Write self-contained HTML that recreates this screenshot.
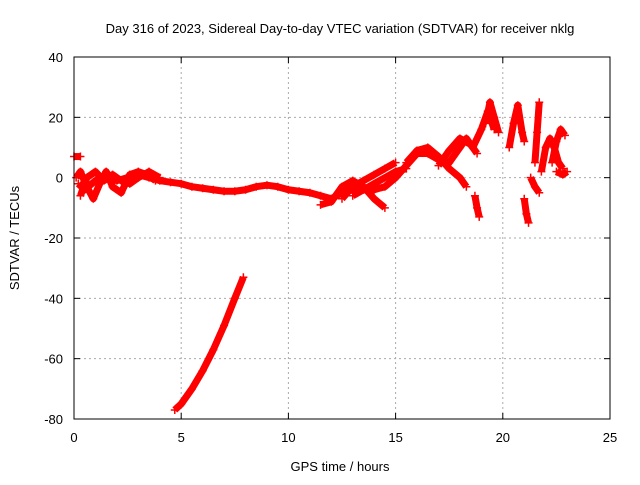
<!DOCTYPE html>
<html><head><meta charset="utf-8"><style>
body{margin:0;background:#fff}
svg text{font-family:"Liberation Sans",sans-serif;font-size:13px;fill:#000}
</style></head><body>
<svg id="c" width="640" height="480">
<rect width="640" height="480" fill="#fff"/>
<text x="340" y="33" text-anchor="middle">Day 316 of 2023, Sidereal Day-to-day VTEC variation (SDTVAR) for receiver nklg</text>
<text x="340" y="471" text-anchor="middle">GPS time / hours</text>
<text transform="translate(19,238) rotate(-90)" text-anchor="middle">SDTVAR / TECUs</text>
<g id="grid"></g><g id="marks"></g>
<rect x="74" y="57" width="536" height="362" fill="none" stroke="#000"/>
</svg>
<script>
const xTicks=[0,5,10,15,20,25];
const yTicks=[40,20,0,-20,-40,-60,-80];
const tracks=[
[[0.2,-2],[0.5,-4],[1,-1],[1.5,0],[2,-1],[2.5,0],[3,1],[3.5,0],[4,-1],[4.5,-1.5],[5,-2],[5.5,-3],[6,-3.5],[6.5,-4],[7,-4.5],[7.5,-4.5],[8,-4],[8.5,-3],[9,-2.5],[9.5,-3],[10,-4],[10.5,-4.5],[11,-5],[11.5,-6],[12,-7],[12.5,-5],[13,-4],[13.5,-4],[14,-4],[14.5,-3],[15,0],[15.5,4],[16,8],[16.5,8],[17,6],[17.5,5],[18,10],[18.3,13],[18.6,10],[19,16],[19.3,22],[19.6,16]],
[[0.1,0],[0.3,2],[0.6,-3],[0.9,-7],[1.2,-2],[1.5,2],[1.8,-3],[2.2,-5],[2.6,1],[3,2],[3.4,1],[3.8,-1]],
[[0.3,-6],[0.6,0],[1,2],[1.4,-1],[1.8,1],[2.2,-1],[2.6,-2],[3,0],[3.5,2],[4,0]],
[[11.5,-9],[12,-8],[12.5,-3],[13,-1],[13.5,-3],[14,-7],[14.5,-10]],
[[12.5,-7],[13,-3],[13.5,-1],[14,1],[14.5,3],[15,5]],
[[13,-6],[14,-2],[15,2],[15.5,3]],
[[15.5,5],[16,9],[16.5,10],[17,7],[17.5,3],[18,0],[18.3,-3]],
[[17,4],[17.5,9],[18,13],[18.5,11],[18.8,8]],
[[18.7,-6],[18.8,-10],[18.9,-13]],
[[19.2,18],[19.4,25],[19.6,20],[19.8,15]],
[[20.3,10],[20.5,18],[20.7,24],[20.9,15],[21,12]],
[[21,-7],[21.1,-12],[21.2,-15]],
[[21.3,0],[21.5,-3],[21.7,-5]],
[[21.5,5],[21.6,15],[21.7,25]],
[[21.8,2],[22,10],[22.2,13],[22.4,10],[22.6,5],[22.8,3]],
[[22.3,5],[22.5,12],[22.7,16],[22.9,14]],
[[22.5,2],[22.8,1],[23,2]],
[[0,7],[0.3,7]],
[[4.7,-77],[5,-75],[5.5,-70],[6,-64],[6.5,-57],[7,-49],[7.5,-40],[7.9,-33]]
];
const X=v=>74+v*536/25, Y=v=>57+(40-v)*362/120;
const ns="http://www.w3.org/2000/svg";
const g=document.getElementById('grid'), m=document.getElementById('marks');
function mk(tag,at,p){const e=document.createElementNS(ns,tag);for(const k in at)e.setAttribute(k,at[k]);p.appendChild(e);return e;}
xTicks.forEach(t=>{
 if(t>0&&t<25){const l=mk('line',{x1:X(t),x2:X(t),y1:57,y2:419,stroke:'#aaa','stroke-dasharray':'2,3'},g);
 
 }
 mk('line',{x1:X(t),x2:X(t),y1:419,y2:413,stroke:'#000'},g);
 mk('line',{x1:X(t),x2:X(t),y1:57,y2:63,stroke:'#000'},g);
 const tx=mk('text',{x:X(t),y:442,'text-anchor':'middle'},g);tx.textContent=t;
 
 
});
yTicks.forEach(t=>{
 if(t>-80&&t<40){const l=mk('line',{x1:74,x2:610,y1:Y(t),y2:Y(t),stroke:'#aaa','stroke-dasharray':'2,3'},g);
 
 }
 mk('line',{x1:74,x2:80,y1:Y(t),y2:Y(t),stroke:'#000'},g);
 mk('line',{x1:610,x2:604,y1:Y(t),y2:Y(t),stroke:'#000'},g);
 const tx=mk('text',{x:63,y:Y(t)+5,'text-anchor':'end'},g);tx.textContent=t;
 
 
});
tracks.forEach(tr=>{
 const pl=mk('polyline',{points:tr.map(p=>X(p[0])+','+Y(p[1])).join(' '),fill:'none',stroke:'#f00','stroke-width':7,'stroke-linejoin':'round'},m);
 
 
 tr.forEach(p=>{
  const x=X(p[0]),y=Y(p[1]);
  const pt=mk('path',{d:`M${x-4},${y}H${x+4}M${x},${y-4}V${y+4}`,stroke:'#f00','stroke-width':1.5},m);
  
  
 });
});
</script>
</body></html>
